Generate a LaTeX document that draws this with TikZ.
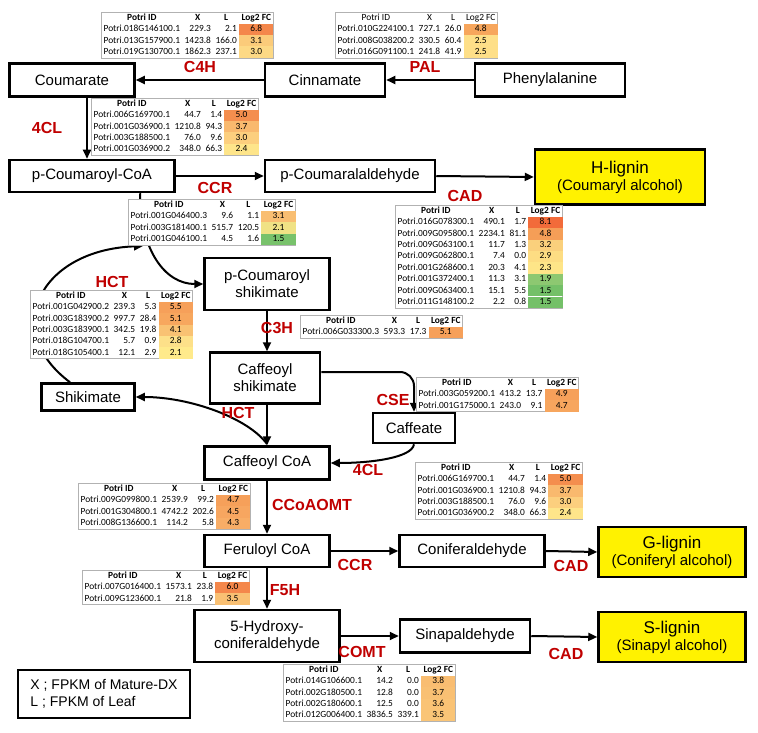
\documentclass[tikz,border=0pt]{standalone}
\usepackage{fontspec}
\setmainfont{Liberation Sans}
\newfontfamily\tabfont{Carlito}
\usepackage{colortbl}
\usetikzlibrary{arrows.meta,calc}
\definecolor{lab}{HTML}{C00000}
\newcommand{\fc}[2]{\cellcolor[HTML]{#1}#2}
\newcommand{\hdrb}{\multicolumn{1}{c}{\textbf{Potri ID}} & \multicolumn{1}{c}{\textbf{X}} & \multicolumn{1}{c}{\textbf{L}} & \textbf{Log2 FC}\\}
\newcommand{\hdrn}{\multicolumn{1}{c}{Potri ID} & \multicolumn{1}{c}{X} & \multicolumn{1}{c}{L} & Log2 FC\\}
\setlength{\tabcolsep}{2.3pt}
\tikzset{
  box/.style={draw, line width=2.5pt, fill=white, align=center, inner sep=2pt,
    font=\fontsize{15}{17}\selectfont},
  lig/.style={box, fill=yellow},
  lbl/.style={text=lab, font=\bfseries\fontsize{16}{18}\selectfont, inner sep=0pt},
  arr/.style={-{Triangle[length=9pt,width=8pt]}, line width=2pt},
  tbl/.style={draw=black!30, line width=0.6pt, fill=white, inner sep=0pt, anchor=north west,
    font=\tabfont\fontsize{9.4}{11.4}\selectfont},
}
\begin{document}
\begin{tikzpicture}[x=1pt,y=-1pt]
\useasboundingbox[fill=white] (0,0) rectangle (758,733);

% ---- compound boxes
\node[box, minimum width=125, minimum height=33] (coum) at (72,80) {Coumarate};
\node[box, minimum width=120, minimum height=33] (cinn) at (325,80) {Cinnamate};
\node[box, minimum width=150, minimum height=33] (phe) at (550,80) {Phenylalanine};
\node[box, minimum width=165, minimum height=32] (pcoa) at (92,176) {p-Coumaroyl-CoA};
\node[box, minimum width=170, minimum height=32] (pcald) at (350,176) {p-Coumaralaldehyde};
\node[lig, minimum width=170, minimum height=55] (hlig) at (620,177) {{\fontsize{17}{20}\selectfont H-lignin}\\(Coumaryl alcohol)};
\node[box, minimum width=125, minimum height=52] (pcs) at (267,284) {p-Coumaroyl\\shikimate};
\node[box, minimum width=110, minimum height=51] (cas) at (265,378) {Caffeoyl\\shikimate};
\node[box, minimum width=93, minimum height=27] (shik) at (88,397) {Shikimate};
\node[box, minimum width=82, minimum height=30] (caf) at (414,428) {Caffeate};
\node[box, minimum width=125, minimum height=33] (cacoa) at (267,463) {Caffeoyl CoA};
\node[box, minimum width=125, minimum height=32] (fcoa) at (267,551) {Feruloyl CoA};
\node[box, minimum width=145, minimum height=32] (conald) at (472,551) {Coniferaldehyde};
\node[lig, minimum width=147, minimum height=50] (glig) at (672,552) {{\fontsize{17}{20}\selectfont G-lignin}\\(Coniferyl alcohol)};
\node[box, minimum width=145, minimum height=52] (hcal) at (267,636) {5-Hydroxy-\\coniferaldehyde};
\node[box, minimum width=130, minimum height=33] (sinald) at (465,636) {Sinapaldehyde};
\node[lig, minimum width=147, minimum height=50] (slig) at (672,637) {{\fontsize{17}{20}\selectfont S-lignin}\\(Sinapyl alcohol)};
\node[draw, line width=1.2pt, minimum width=172, minimum height=48, align=left,
  font=\fontsize{14}{17}\selectfont] (legend) at (104,694) {X ; FPKM of Mature-DX\\L ; FPKM of Leaf};

% ---- connectors
\draw[arr] (phe.west) -- (cinn.east);
\draw[arr] (cinn.west) -- (coum.east);
\draw[arr] ([xshift=15]coum.south) -- ([xshift=-5]pcoa.north);
\draw[arr] (pcoa.east) -- (pcald.west);
\draw[arr] (pcald.east) -- (hlig.west);
\draw[arr] ([xshift=48]pcoa.south) .. controls (140,250) and (165,284) .. (pcs.west);
\coordinate (j1) at (143,246);
\draw[arr] ([xshift=-18]shik.north) .. controls (0,330) and (40,250) .. (j1);
\draw[arr] (pcs.south) -- (pcs.south |- cas.north);
\draw[arr] (cas.south -| cacoa.north) -- (cacoa.north);
\coordinate (j2) at (267,444);
\draw[arr] (j2) .. controls (248,418) and (190,397) .. (shik.east);
\draw[arr, rounded corners=14] ([yshift=6]cas.east) -| (caf.north);
\draw[arr] (caf.south) .. controls (412,458) and (370,463) .. (cacoa.east);
\draw[arr] (cacoa.south) -- (fcoa.north);
\draw[arr] (fcoa.east) -- (conald.west);
\draw[arr] (conald.east) -- (glig.west);
\draw[arr] (fcoa.south) -- (hcal.north);
\draw[arr] (hcal.east) -- (sinald.west);
\draw[arr] (sinald.east) -- (slig.west);

% ---- enzyme labels
\node[lbl] (l_c4h) at (200,67) {C4H};
\node[lbl] (l_pal) at (425,67) {PAL};
\node[lbl] (l_4cl) at (47,128) {4CL};
\node[lbl] (l_ccr) at (215,188) {CCR};
\node[lbl] (l_cad) at (465,196) {CAD};
\node[lbl] (l_hct) at (112,282) {HCT};
\node[lbl] (l_c3h) at (277,328) {C3H};
\node[lbl] (l_hct2) at (238,413) {HCT};
\node[lbl] (l_cse) at (393,400) {CSE};
\node[lbl] (l_4cl2) at (368,470) {4CL};
\node[lbl] (l_ccoa) at (312,505) {CCoAOMT};
\node[lbl] (l_ccr2) at (355,565) {CCR};
\node[lbl] (l_cad2) at (571,566) {CAD};
\node[lbl] (l_f5h) at (285,590) {F5H};
\node[lbl] (l_comt) at (362,652) {COMT};
\node[lbl] (l_cad3) at (566,654) {CAD};

% ---- tables
\node[tbl] (t_c4h) at (101,12) {\begin{tabular}{lrrc}\hdrb
Potri.018G146100.1 & 229.3 & 2.1 & \fc{F4874B}{6.8}\\
Potri.013G157900.1 & 1423.8 & 166.0 & \fc{FBCB7A}{3.1}\\
Potri.019G130700.1 & 1862.3 & 237.1 & \fc{FDD985}{3.0}\\
\end{tabular}};
\node[tbl] (t_pal) at (335,12) {\begin{tabular}{lrrc}\hdrn
Potri.010G224100.1 & 727.1 & 26.0 & \fc{F7A65C}{4.8}\\
Potri.008G038200.2 & 330.5 & 60.4 & \fc{FEDF88}{2.5}\\
Potri.016G091100.1 & 241.8 & 41.9 & \fc{FEDF88}{2.5}\\
\end{tabular}};
\node[tbl] (t_4cl) at (91,98) {\begin{tabular}{lrrc}\hdrb
Potri.006G169700.1 & 44.7 & 1.4 & \fc{F48E4E}{5.0}\\
Potri.001G036900.1 & 1210.8 & 94.3 & \fc{F9B96E}{3.7}\\
Potri.003G188500.1 & 76.0 & 9.6 & \fc{FCCF7E}{3.0}\\
Potri.001G036900.2 & 348.0 & 66.3 & \fc{FEE58A}{2.4}\\
\end{tabular}};
\node[tbl] (t_ccr) at (128,199) {\begin{tabular}{lrrc}\hdrb
Potri.001G046400.3 & 9.6 & 1.1 & \fc{F9BE72}{3.1}\\
Potri.003G181400.1 & 515.7 & 120.5 & \fc{F0E285}{2.1}\\
Potri.001G046100.1 & 4.5 & 1.6 & \fc{78C26B}{1.5}\\
\end{tabular}};
\node[tbl] (t_cad) at (395,205) {\begin{tabular}{lrrc}\hdrb
Potri.016G078300.1 & 490.1 & 1.7 & \fc{F26B3A}{8.1}\\
Potri.009G095800.1 & 2234.1 & 81.1 & \fc{F59E57}{4.8}\\
Potri.009G063100.1 & 11.7 & 1.3 & \fc{FAD07C}{3.2}\\
Potri.009G062800.1 & 7.4 & 0.0 & \fc{FDDD83}{2.9}\\
Potri.001G268600.1 & 20.3 & 4.1 & \fc{FEE588}{2.3}\\
Potri.001G372400.1 & 11.3 & 3.1 & \fc{8DC871}{1.9}\\
Potri.009G063400.1 & 15.1 & 5.5 & \fc{74C068}{1.5}\\
Potri.011G148100.2 & 2.2 & 0.8 & \fc{74C068}{1.5}\\
\end{tabular}};
\node[tbl] (t_hct) at (30,290) {\begin{tabular}{lrrc}\hdrb
Potri.001G042900.2 & 239.3 & 5.3 & \fc{F6A05A}{5.5}\\
Potri.003G183900.2 & 997.7 & 28.4 & \fc{F7A75E}{5.1}\\
Potri.003G183900.1 & 342.5 & 19.8 & \fc{F9C273}{4.1}\\
Potri.018G104700.1 & 5.7 & 0.9 & \fc{FDE089}{2.8}\\
Potri.018G105400.1 & 12.1 & 2.9 & \fc{FFEA8B}{2.1}\\
\end{tabular}};
\node[tbl] (t_c3h) at (300,315) {\begin{tabular}{lrrc}\hdrb
Potri.006G033300.3 & 593.3 & 17.3 & \fc{F6A05A}{5.1}\\
\end{tabular}};
\node[tbl] (t_cse) at (416,377) {\begin{tabular}{lrrc}\hdrb
Potri.003G059200.1 & 413.2 & 13.7 & \fc{F6A05A}{4.9}\\
Potri.001G175000.1 & 243.0 & 9.1 & \fc{F7A65E}{4.7}\\
\end{tabular}};
\node[tbl] (t_4cl2) at (415,462) {\begin{tabular}{lrrc}\hdrb
Potri.006G169700.1 & 44.7 & 1.4 & \fc{F48E4E}{5.0}\\
Potri.001G036900.1 & 1210.8 & 94.3 & \fc{F9B96E}{3.7}\\
Potri.003G188500.1 & 76.0 & 9.6 & \fc{FCCF7E}{3.0}\\
Potri.001G036900.2 & 348.0 & 66.3 & \fc{FEE58A}{2.4}\\
\end{tabular}};
\node[tbl] (t_ccoa) at (78,483) {\begin{tabular}{lrrc}\hdrb
Potri.009G099800.1 & 2539.9 & 99.2 & \fc{F6A05A}{4.7}\\
Potri.001G304800.1 & 4742.2 & 202.6 & \fc{F7A660}{4.5}\\
Potri.008G136600.1 & 114.2 & 5.8 & \fc{F8AD66}{4.3}\\
\end{tabular}};
\node[tbl] (t_f5h) at (82,570) {\begin{tabular}{lrrc}\hdrb
Potri.007G016400.1 & 1573.1 & 23.8 & \fc{F4874B}{6.0}\\
Potri.009G123600.1 & 21.8 & 1.9 & \fc{F9C073}{3.5}\\
\end{tabular}};
\node[tbl] (t_comt) at (283,664) {\begin{tabular}{lrrc}\hdrb
Potri.014G106600.1 & 14.2 & 0.0 & \fc{F9BD71}{3.8}\\
Potri.002G180500.1 & 12.8 & 0.0 & \fc{F9C073}{3.7}\\
Potri.002G180600.1 & 12.5 & 0.0 & \fc{FAC375}{3.6}\\
Potri.012G006400.1 & 3836.5 & 339.1 & \fc{FAC577}{3.5}\\
\end{tabular}};
\end{tikzpicture}
\end{document}
